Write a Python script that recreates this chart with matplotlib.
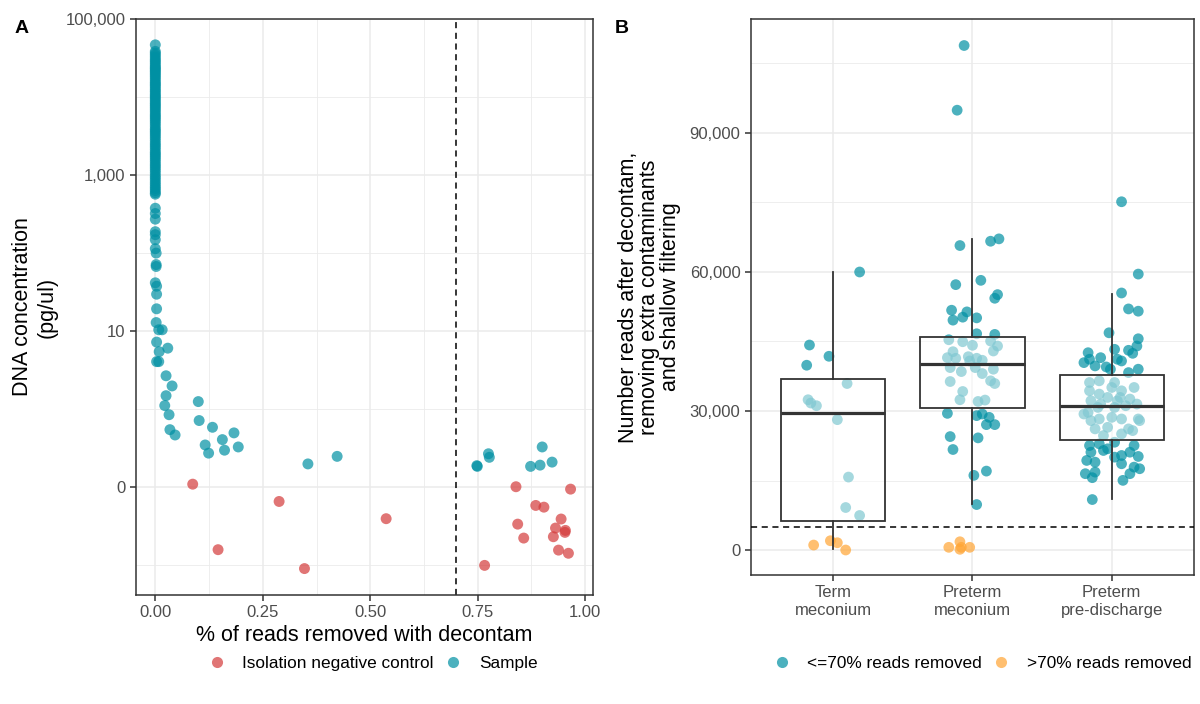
import numpy as np
import matplotlib.pyplot as plt
from matplotlib.lines import Line2D
from matplotlib.ticker import FixedLocator, NullFormatter

plt.rcParams['font.family'] = ['Liberation Sans', 'DejaVu Sans']

# ---------------- Panel A data ----------------
# samples with ~0% reads removed (the dense column at x = 0)
col_conc = [47300, 39000, 37000, 35000, 33000, 31000, 29500, 28000, 26500, 25000,
            24000, 23000, 22000, 21000, 20000, 19000, 18000, 17000, 16000, 15200,
            14500, 13800, 13000, 12300, 11700, 11000, 10500, 10000, 9500, 9000,
            8500, 8100, 7700, 7300, 6900, 6500, 6100, 5800, 5500, 5200,
            4900, 4600, 4300, 4000, 3800, 3600, 3400, 3200, 3000, 2800,
            2600, 2450, 2300, 2150, 2000, 1900, 1800, 1700, 1600, 1500,
            1400, 1320, 1240, 1160, 1080, 1000, 940, 880, 820, 770,
            720, 680, 640, 600, 575, 380, 325, 275, 190, 174, 150, 115]

# scattered samples (fraction removed, concentration pg/ul)
samp_removed = [0.002, 0.002, 0.002, 0.000, 0.003, 0.003, 0.003, 0.002, 0.008, 0.016,
                0.003, 0.009, 0.029, 0.003, 0.008, 0.025, 0.039, 0.025, 0.022, 0.032,
                0.034, 0.046, 0.100, 0.102, 0.133, 0.116, 0.124, 0.156, 0.161, 0.183,
                0.193, 0.355, 0.423, 0.748, 0.749, 0.775, 0.777, 0.873, 0.895, 0.900, 0.923]
samp_conc = [101, 72, 68, 42, 38, 30, 19.5, 13, 10.5, 10.5,
             7.3, 5.5, 6.1, 4.1, 4.1, 2.7, 2.0, 1.5, 1.12, 0.855,
             0.55, 0.47, 1.26, 0.72, 0.59, 0.35, 0.275, 0.41, 0.30, 0.50,
             0.33, 0.20, 0.25, 0.19, 0.186, 0.27, 0.243, 0.186, 0.193, 0.33, 0.211]

neg_removed = [0.087, 0.288, 0.146, 0.347, 0.537, 0.839, 0.966, 0.885, 0.904, 0.843,
               0.857, 0.944, 0.931, 0.954, 0.953, 0.926, 0.938, 0.961, 0.766]
neg_conc = [0.110, 0.066, 0.0159, 0.0091, 0.0397, 0.102, 0.095, 0.0587, 0.0558, 0.0338,
            0.0224, 0.0393, 0.0301, 0.0281, 0.0265, 0.0233, 0.0157, 0.0143, 0.0100]

threshold_removed = 0.7

# ---------------- Panel B data ----------------
groups = ["Term\nmeconium", "Preterm\nmeconium", "Preterm\npre-discharge"]

# box statistics (q1, median, q3, whisker low, whisker high)
box_q1 = [6290, 30640, 23840]
box_med = [29570, 40220, 31140]
box_q3 = [37000, 45890, 37800]
box_lo = [150, 9880, 11100]
box_hi = [60000, 67150, 55340]

# jittered points: <=70% reads removed
keep_x = [1.19, 0.83, 0.97, 0.81, 1.10, 0.82, 0.84, 0.88, 1.03, 1.11, 1.09, 1.19,
          1.89, 1.94,
          1.91, 2.13, 2.19, 1.88, 2.06, 2.18, 2.16, 1.85, 1.96, 1.93, 2.03, 1.86,
          2.03, 2.16, 1.83, 1.93, 2.00, 2.13, 2.18, 1.86, 1.82, 1.88, 1.97, 2.03,
          2.07, 2.15, 1.84, 1.92, 2.02, 2.07, 2.15, 2.13, 2.16, 1.84, 1.93, 1.91,
          2.04, 2.09, 1.98, 1.82, 2.03, 2.07, 2.12, 2.10, 2.16, 1.84, 2.04, 1.86,
          2.01, 2.10, 2.03,
          3.07, 3.19, 3.07, 3.12, 3.19, 2.98, 3.19, 3.18, 2.83, 3.02, 3.12, 3.15,
          2.84, 2.92, 3.04, 3.07, 2.88, 2.96, 2.99, 3.19, 3.12, 2.80,
          2.84, 2.91, 3.02, 3.16, 3.07, 2.84, 2.91, 2.97, 3.06, 3.13, 2.85, 2.83,
          2.90, 3.02, 3.10, 3.18, 2.80, 2.91, 3.00, 3.07, 3.19, 2.88, 2.97, 3.12,
          3.20, 2.85, 2.94, 3.07, 3.15, 3.00, 2.92, 3.04,
          2.84, 2.91, 3.02, 3.16, 2.85, 2.94, 3.07, 3.13, 3.19, 2.82, 2.88, 3.07,
          3.16, 3.20, 2.81, 2.88, 3.13, 2.86, 3.08, 2.86, 2.97, 3.02]
keep_y = [60000, 44240, 41810, 39880, 35930, 32430, 31720, 31140, 28130, 15740, 9170, 7450,
          94920, 108880,
          65710, 66640, 67150, 57270, 58200, 55120, 54330, 51750, 51390, 50250, 50100, 49610,
          46670, 46530, 45380, 44950, 44180, 45100, 44020, 42800, 41510, 41380, 41720, 41380,
          40950, 42950, 39370, 38510, 39370, 38080, 39020, 36510, 35930, 36360, 34210, 32430,
          32060, 32360, 40800, 29490, 29000, 29350, 28630, 27060, 27060, 24480, 24200, 21690,
          16110, 17030, 9810,
          75160, 59550, 55470, 52030, 51540, 46880, 45590, 44020, 42580, 43310, 43100, 42450,
          41170, 41510, 41170, 40800, 39730, 39510, 39020, 39020, 38290, 40440,
          36150, 36510, 36150, 35080, 34360, 34360, 33650, 32930, 32930, 32580, 32210, 29700,
          30770, 30770, 31140, 31500, 29350, 28280, 28630, 28280, 28280, 26140, 26480, 26140,
          27920, 27920, 24700, 25060, 25770, 35080, 31500, 32210,
          22550, 22910, 23260, 22550, 21110, 21480, 20400, 21110, 20190, 19330, 18960, 18610,
          17890, 17540, 16470, 16820, 16470, 15610, 15030, 10890, 21840, 20040]

# jittered points: >70% reads removed
drop_x = [0.86, 0.98, 1.03, 1.09, 1.83, 1.91, 1.91, 1.98, 1.92]
drop_y = [1070, 2000, 1570, 0, 580, 1780, 150, 580, 580]

read_threshold = 5000

# ---------------- styling ----------------
teal = "#0090A3"
red = "#D43A3A"
orange = "#FFA534"
grid_c = "#EBEBEB"
frame_c = "#333333"
tick_c = "#4D4D4D"

fig = plt.figure(figsize=(12, 7.04), dpi=100)
axA = fig.add_axes([0.1133, 0.1548, 0.3808, 0.8182])
axB = fig.add_axes([0.6258, 0.1832, 0.3692, 0.7898])


def style(ax):
    for s in ax.spines.values():
        s.set_color(frame_c)
        s.set_linewidth(1.1)
    ax.set_axisbelow(True)
    ax.grid(which="major", color=grid_c, linewidth=1.1)
    ax.grid(which="minor", color=grid_c, linewidth=0.6)
    ax.tick_params(which="major", length=4, width=1.1, color=frame_c,
                   labelcolor=tick_c, labelsize=12)
    ax.tick_params(which="minor", length=0)


# ---- Panel A ----
axA.set_yscale("log")
axA.scatter(np.zeros(len(col_conc)), col_conc, s=62, color=teal, alpha=0.7,
            edgecolors="none", zorder=3)
axA.scatter(samp_removed, samp_conc, s=62, color=teal, alpha=0.7,
            edgecolors="none", zorder=3)
axA.scatter(neg_removed, neg_conc, s=62, color=red, alpha=0.7,
            edgecolors="none", zorder=3)
axA.axvline(threshold_removed, color="black", linestyle=(0, (4, 3)), linewidth=1.1, zorder=2)
axA.set_xlim(-0.045, 1.018)
axA.set_ylim(10 ** -2.38, 10 ** 5.006)
axA.yaxis.set_major_locator(FixedLocator([0.1, 10, 1000, 100000]))
axA.yaxis.set_minor_locator(FixedLocator([0.01, 1, 100, 10000]))
axA.yaxis.set_minor_formatter(NullFormatter())
axA.set_yticklabels(["0", "10", "1,000", "100,000"])
axA.xaxis.set_major_locator(FixedLocator([0, 0.25, 0.5, 0.75, 1.0]))
axA.xaxis.set_minor_locator(FixedLocator([0.125, 0.375, 0.625, 0.875]))
axA.set_xticklabels(["0.00", "0.25", "0.50", "0.75", "1.00"])
style(axA)
axA.set_xlabel("% of reads removed with decontam", fontsize=15.5, labelpad=3)
axA.set_ylabel("DNA concentration\n(pg/ul)", fontsize=15.5, labelpad=6)

# ---- Panel B ----
axB.scatter(keep_x, keep_y, s=60, color=teal, alpha=0.7, edgecolors="none", zorder=2)
axB.scatter(drop_x, drop_y, s=60, color=orange, alpha=0.7, edgecolors="none", zorder=2)
stats = []
for i in range(len(groups)):
    stats.append(dict(med=box_med[i], q1=box_q1[i], q3=box_q3[i],
                      whislo=box_lo[i], whishi=box_hi[i], fliers=[]))
axB.bxp(stats, positions=[1, 2, 3], widths=0.75, showcaps=False, showfliers=False,
        patch_artist=True, zorder=3,
        boxprops=dict(facecolor=(1, 1, 1, 0.5), edgecolor=frame_c, linewidth=1.3),
        whiskerprops=dict(color=frame_c, linewidth=1.3),
        medianprops=dict(color=frame_c, linewidth=2.3))
axB.axhline(read_threshold, color="black", linestyle=(0, (4, 3)), linewidth=1.1, zorder=4)
axB.set_xlim(0.41, 3.59)
axB.set_ylim(-5400, 114600)
axB.xaxis.set_major_locator(FixedLocator([1, 2, 3]))
axB.set_xticklabels(groups)
axB.yaxis.set_major_locator(FixedLocator([0, 30000, 60000, 90000]))
axB.yaxis.set_minor_locator(FixedLocator([15000, 45000, 75000, 105000]))
axB.set_yticklabels(["0", "30,000", "60,000", "90,000"])
style(axB)
axB.set_ylabel("Number reads after decontam,\nremoving extra contaminants\nand shallow filtering",
               fontsize=15.5, labelpad=6, linespacing=1.0)

# panel letters
fig.text(0.012, 0.96, "A", fontsize=14, fontweight="bold", va="center")
fig.text(0.512, 0.96, "B", fontsize=14, fontweight="bold", va="center")

# legends
hA = [Line2D([], [], marker="o", linestyle="none", markersize=8, color=red, alpha=0.7,
             markeredgewidth=0, label="Isolation negative control"),
      Line2D([], [], marker="o", linestyle="none", markersize=8, color=teal, alpha=0.7,
             markeredgewidth=0, label="Sample")]
fig.legend(handles=hA, loc="center", bbox_to_anchor=(0.307, 0.057), ncol=2, frameon=False,
           fontsize=12.4, handletextpad=0.5, columnspacing=0.1)
hB = [Line2D([], [], marker="o", linestyle="none", markersize=8, color=teal, alpha=0.7,
             markeredgewidth=0, label="<=70% reads removed"),
      Line2D([], [], marker="o", linestyle="none", markersize=8, color=orange, alpha=0.7,
             markeredgewidth=0, label=">70% reads removed")]
fig.legend(handles=hB, loc="center", bbox_to_anchor=(0.815, 0.057), ncol=2, frameon=False,
           fontsize=12.4, handletextpad=0.5, columnspacing=0.1)

fig.savefig("out.png", dpi=100)
